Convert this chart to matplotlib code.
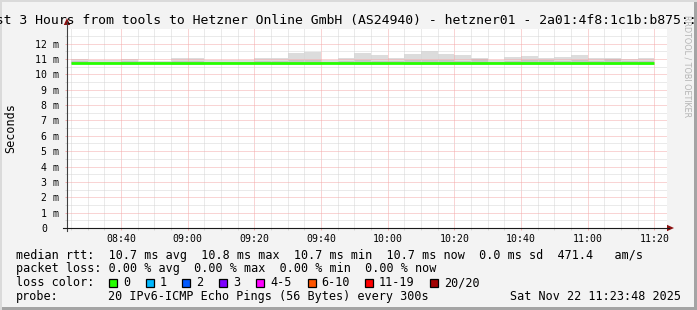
import numpy as np
import matplotlib
matplotlib.use("Agg")
import matplotlib.pyplot as plt
import matplotlib.transforms as mtransforms
from matplotlib.patches import Rectangle, Polygon
from matplotlib.lines import Line2D

W, H, DPI = 697, 310, 100
MONO = "DejaVu Sans Mono"

# --- data (5 minute bins starting 08:25, times in minutes after midnight) ---
bin_start = 8 * 60 + 25
bin_len = 5
view_start = 8 * 60 + 23.8   # 08:23:48
view_end = 11 * 60 + 23.8    # 11:23:48

smoke_max = [10.98, 10.94, 10.94, 11.00, 10.90, 10.90, 11.09, 11.04, 10.94, 10.94,
             10.94, 11.04, 11.09, 11.37, 11.43, 10.94, 11.04, 11.41, 11.28, 11.04,
             11.32, 11.52, 11.32, 11.28, 11.06, 10.94, 11.15, 11.22, 11.06, 11.15,
             11.28, 11.06, 11.06, 11.00, 11.06]
smoke_min = [10.64, 10.65, 10.65, 10.63, 10.65, 10.65, 10.62, 10.62, 10.65, 10.65,
             10.65, 10.64, 10.63, 10.63, 10.62, 10.65, 10.63, 10.62, 10.62, 10.64,
             10.62, 10.62, 10.63, 10.63, 10.62, 10.65, 10.62, 10.63, 10.62, 10.63,
             10.62, 10.63, 10.62, 10.64, 10.63]
inner_hi = [10.84, 10.82, 10.82, 10.85, 10.82, 10.82, 10.86, 10.86, 10.82, 10.82,
            10.82, 10.90, 10.88, 10.92, 10.92, 10.82, 10.88, 10.94, 10.90, 10.86,
            10.92, 10.95, 10.92, 10.90, 11.02, 10.82, 10.90, 10.92, 10.92, 10.88,
            10.92, 10.88, 10.98, 10.84, 10.88]
inner_lo = [10.68, 10.69, 10.69, 10.68, 10.69, 10.69, 10.67, 10.67, 10.69, 10.69,
            10.69, 10.68, 10.67, 10.66, 10.66, 10.69, 10.67, 10.66, 10.66, 10.68,
            10.66, 10.66, 10.67, 10.67, 10.66, 10.69, 10.66, 10.67, 10.66, 10.67,
            10.66, 10.67, 10.66, 10.68, 10.67]
median = [10.74, 10.74, 10.74, 10.74, 10.74, 10.74, 10.74, 10.74, 10.74, 10.74,
          10.74, 10.74, 10.74, 10.75, 10.75, 10.74, 10.74, 10.75, 10.75, 10.74,
          10.74, 10.75, 10.75, 10.74, 10.74, 10.74, 10.74, 10.75, 10.74, 10.74,
          10.74, 10.74, 10.74, 10.74, 10.74]

x_labels = ["08:40", "09:00", "09:20", "09:40", "10:00", "10:20", "10:40", "11:00", "11:20"]
y_values = list(range(0, 13))
y_labels = ["0"] + [f"{v} m" for v in y_values[1:]]

title = "Last 3 Hours from tools to Hetzner Online GmbH (AS24940) - hetzner01 - 2a01:4f8:1c1b:b875::1"
legend_rtt = "median rtt:  10.7 ms avg  10.8 ms max  10.7 ms min  10.7 ms now  0.0 ms sd  471.4   am/s"
legend_loss = "packet loss: 0.00 % avg  0.00 % max  0.00 % min  0.00 % now"
loss_names = ["0", "1", "2", "3", "4-5", "6-10", "11-19", "20/20"]
loss_colors = ["#26ff00", "#00b8ff", "#0059ff", "#7e00ff", "#ff00ff", "#ff5500", "#ff0000", "#a10000"]
probe_text = "20 IPv6-ICMP Echo Pings (56 Bytes) every 300s"
stamp = "Sat Nov 22 11:23:48 2025"


def fx(px):
    return px / W


def fy(py):
    return 1 - py / H


fig = plt.figure(figsize=(W / DPI, H / DPI), dpi=DPI)
fig.patch.set_facecolor("#f3f3f3")

# frame around image
fig.add_artist(Rectangle((0, 0), 1, 3 / H, transform=fig.transFigure, color="#a4a4a4", lw=0))
fig.add_artist(Rectangle((fx(694), 0), 3 / W, 1, transform=fig.transFigure, color="#a4a4a4", lw=0))
fig.add_artist(Rectangle((0, fy(2)), 1, 2 / H, transform=fig.transFigure, color="#dadada", lw=0))
fig.add_artist(Rectangle((0, 0), 2 / W, 1, transform=fig.transFigure, color="#dadada", lw=0))

ax = fig.add_axes([fx(67), fy(228), 600 / W, 199 / H])
ax.set_facecolor("white")
ax.set_xlim(view_start, view_end)
ax.set_ylim(0, 12.95)

edges = bin_start + bin_len * np.arange(len(median) + 1)
ax.stairs(smoke_max, edges, baseline=smoke_min, fill=True, color="#dcdcdc", lw=0, zorder=1)
ax.stairs(inner_hi, edges, baseline=inner_lo, fill=True, color="#c6c6c6", lw=0, zorder=1.2)
ax.stairs(median, edges, baseline=None, color="#26ff00", lw=2.0, zorder=3)

major_x = [int(s[:2]) * 60 + int(s[3:]) for s in x_labels]
ax.set_xticks(major_x)
ax.set_xticklabels(x_labels, family=MONO, fontsize=7.1)
ax.set_xticks(np.arange(bin_start, view_end, bin_len), minor=True)
ax.set_yticks(y_values)
ax.set_yticklabels(y_labels, family=MONO, fontsize=7.1)
ax.set_yticks(np.arange(0.5, 13, 1.0), minor=True)

dot = (0, (1, 1))
ax.set_axisbelow(False)
ax.grid(which="major", color="#f5aaaa", ls=dot, lw=0.72)
ax.grid(which="minor", color="#d6d6d6", ls=dot, lw=0.72)
ax.tick_params(which="major", direction="out", length=1.6, width=0.72, color="#f5aaaa", pad=2.4)
ax.tick_params(axis="y", which="major", pad=4.0)
ax.tick_params(which="minor", direction="out", length=1.6, width=0.72, color="#d6d6d6")
for s in ax.spines.values():
    s.set_visible(False)

# shift the "0" label so it lines up with the digits of "N m"
zero_tick = ax.yaxis.get_major_ticks()[0]
zero_tick.label1.set_transform(zero_tick.label1.get_transform() +
                               mtransforms.ScaledTranslation(-12 / DPI, 0, fig.dpi_scale_trans))

# axis lines and arrows
fig.add_artist(Line2D([fx(67), fx(67)], [fy(231), fy(22)], transform=fig.transFigure, color="#404040", lw=0.8))
fig.add_artist(Line2D([fx(63), fx(669)], [fy(228), fy(228)], transform=fig.transFigure, color="#1a1a1a", lw=0.8))
fig.add_artist(Polygon([[fx(67), fy(18)], [fx(63.8), fy(25)], [fx(70.2), fy(25)]],
                       transform=fig.transFigure, color="#8b1010", lw=0))
fig.add_artist(Polygon([[fx(674), fy(228)], [fx(667), fy(224.8)], [fx(667), fy(231.2)]],
                       transform=fig.transFigure, color="#8b1010", lw=0))

# titles
fig.text(fx(-20.3), fy(24), title, family=MONO, fontsize=9.45, ha="left", va="baseline")
fig.text(fx(11), fy(128), "Seconds", family=MONO, fontsize=8.5, rotation=90, ha="center", va="center")
fig.text(fx(687), fy(66), "RRDTOOL / TOBI OETIKER", fontsize=5.8, rotation=270,
         color="#b4b4b4", ha="center", va="center")

# legend lines
fig.text(fx(16), fy(258.5), legend_rtt, family=MONO, fontsize=8.5, va="baseline")
fig.text(fx(16), fy(272.3), legend_loss, family=MONO, fontsize=8.5, va="baseline")
fig.text(fx(16), fy(286.3), "loss color:", family=MONO, fontsize=8.5, va="baseline")
box_left = [109, 145.5, 182, 219, 256, 307.5, 365, 430]
for bx, name, col in zip(box_left, loss_names, loss_colors):
    fig.add_artist(Rectangle((fx(bx), fy(287)), 8 / W, 8.5 / H, transform=fig.transFigure,
                             facecolor=col, edgecolor="black", lw=0.9))
    fig.text(fx(bx + 14), fy(286.3), name, family=MONO, fontsize=8.5, va="baseline")
fig.text(fx(16), fy(300.3), "probe:", family=MONO, fontsize=8.5, va="baseline")
fig.text(fx(107.6), fy(300.3), probe_text, family=MONO, fontsize=8.5, va="baseline")
fig.text(fx(680.5), fy(300.3), stamp, family=MONO, fontsize=8.5, va="baseline", ha="right")

fig.savefig("out.png", dpi=DPI, facecolor=fig.get_facecolor())
